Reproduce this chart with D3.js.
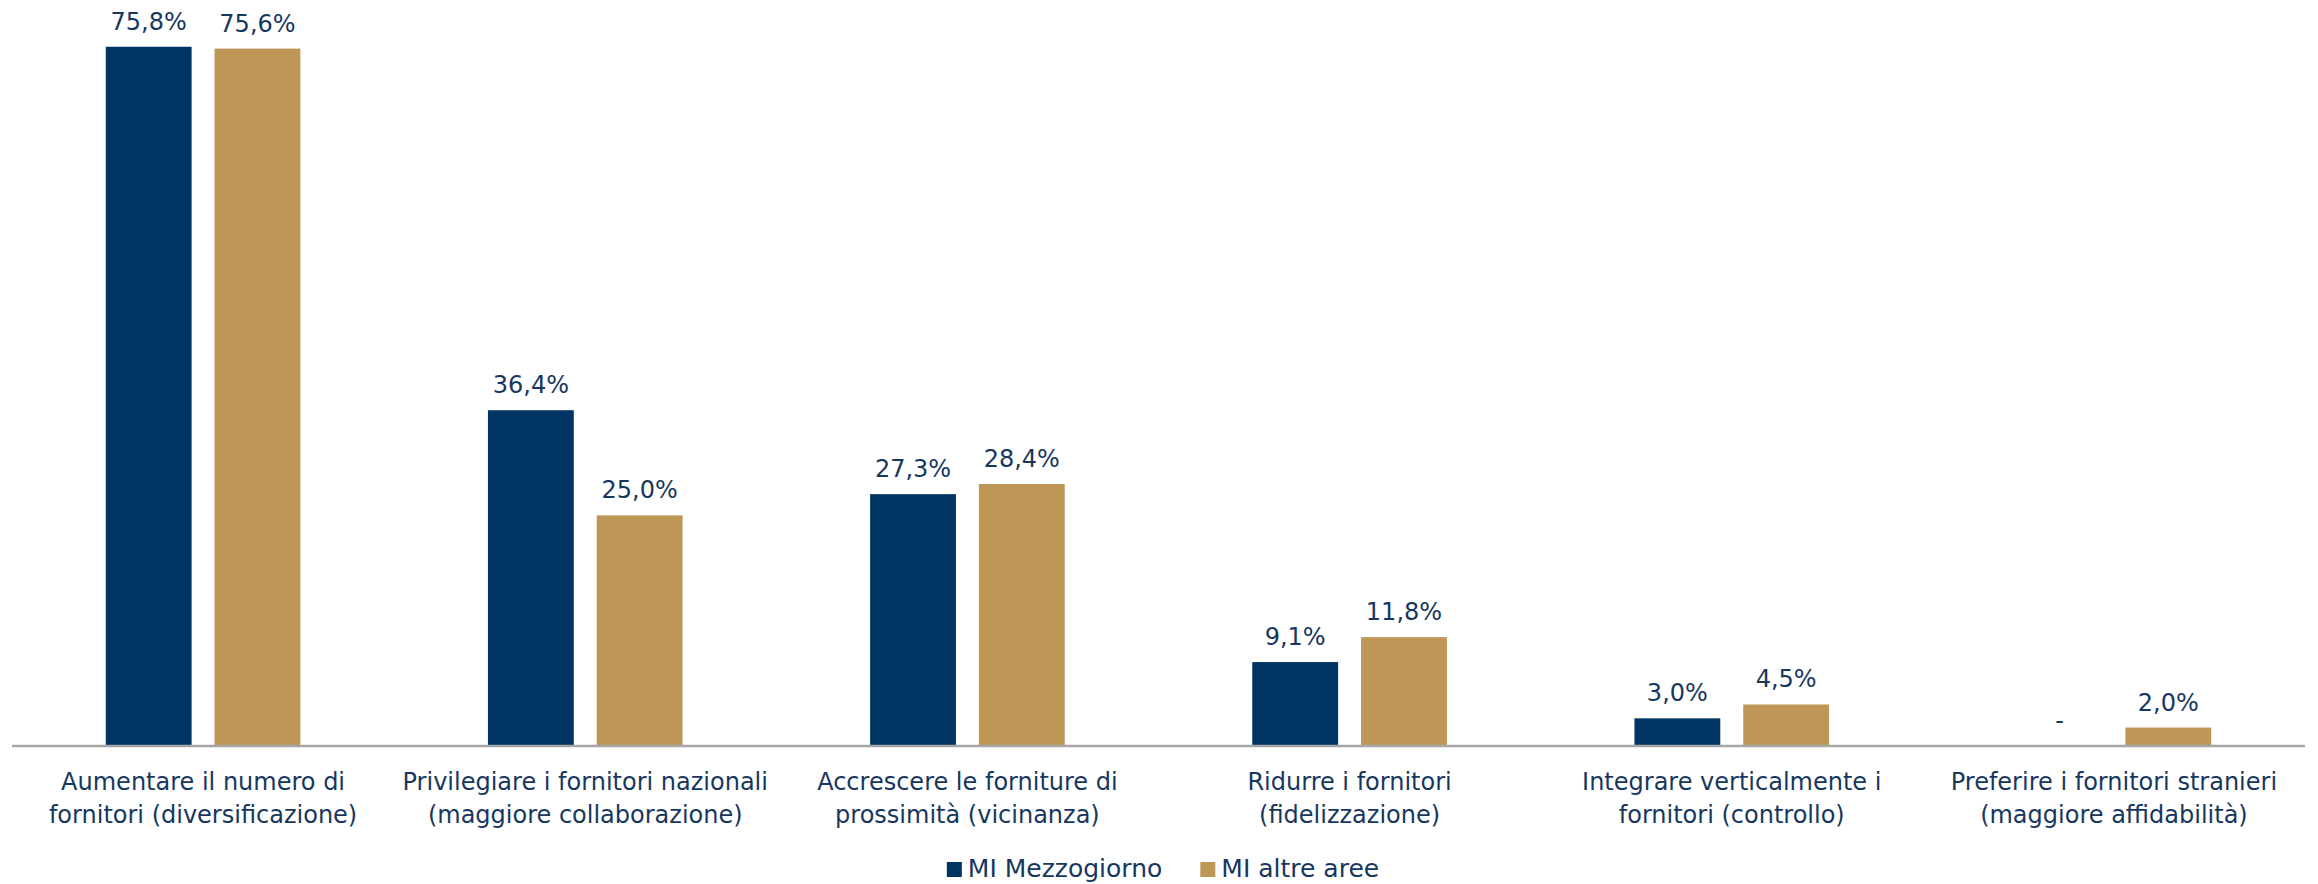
<!DOCTYPE html>
<html>
<head>
<meta charset="utf-8">
<script src="https://cdn.jsdelivr.net/npm/d3@7/dist/d3.min.js"></script>
<style>
  html, body { margin: 0; padding: 0; background: #ffffff; }
  svg { display: block; }
</style>
</head>
<body>
<svg id="chart" width="2318" height="884"></svg>
<script>
// ---- data ----
const categories = [
  ["Aumentare il numero di", "fornitori (diversificazione)"],
  ["Privilegiare i fornitori nazionali", "(maggiore collaborazione)"],
  ["Accrescere le forniture di", "prossimità (vicinanza)"],
  ["Ridurre i fornitori", "(fidelizzazione)"],
  ["Integrare verticalmente i", "fornitori (controllo)"],
  ["Preferire i fornitori stranieri", "(maggiore affidabilità)"]
];
const seriesNames = ["MI Mezzogiorno", "MI altre aree"];
const mezzogiorno = [75.8, 36.4, 27.3, 9.1, 3.0, 0];
const altreAree   = [75.6, 25.0, 28.4, 11.8, 4.5, 2.0];
const seriesColors = ["#003462", "#be9655"];

// ---- layout ----
const W = 2318, H = 884;
const textColor = "#17375e";
const font = "'DejaVu Sans', sans-serif";
const svg = d3.select("#chart");

const catIdx = categories.map((d, i) => i);
const x = d3.scaleBand().domain(catIdx).range([12, 2305]).paddingInner(0).paddingOuter(0);
const xs = d3.scaleBand().domain([0, 1]).range([0, x.bandwidth()])
  .paddingInner(0.211).paddingOuter(0.862);
const y = d3.scaleLinear().domain([0, 80]).range([746, 8]);

const seriesValues = [mezzogiorno, altreAree];
const rows = [];
catIdx.forEach(c => seriesValues.forEach((vals, s) => rows.push({ c, s, v: vals[c] })));

// bars
svg.append("g").selectAll("rect")
  .data(rows.filter(d => d.v > 0))
  .join("rect")
  .attr("x", d => x(d.c) + xs(d.s))
  .attr("width", xs.bandwidth())
  .attr("y", d => y(d.v))
  .attr("height", d => y(0) - y(d.v))
  .attr("fill", d => seriesColors[d.s]);

// value labels
const fmt = v => v === 0 ? "-" : v.toFixed(1).replace(".", ",") + "%";
svg.append("g").selectAll("text")
  .data(rows)
  .join("text")
  .attr("x", d => x(d.c) + xs(d.s) + xs.bandwidth() / 2)
  .attr("y", d => y(d.v) - 17)
  .attr("text-anchor", "middle")
  .attr("font-family", font)
  .attr("font-size", 24)
  .attr("fill", textColor)
  .text(d => fmt(d.v));

// x axis baseline
const xAxis = d3.axisBottom(x).tickSize(0).tickFormat("");
const axisG = svg.append("g").attr("transform", `translate(0,${y(0)})`).call(xAxis);
axisG.select(".domain").attr("stroke", "#a6a6a6").attr("stroke-width", 2.5)
  .attr("d", `M12,0H2305`);

// category labels
const lbl = svg.append("g").selectAll("text")
  .data(catIdx)
  .join("text")
  .attr("text-anchor", "middle")
  .attr("font-family", font)
  .attr("font-size", 24)
  .attr("fill", textColor);
lbl.selectAll("tspan")
  .data(c => categories[c].map(line => ({ c, line })))
  .join("tspan")
  .attr("x", d => x(d.c) + x.bandwidth() / 2)
  .attr("y", (d, i) => 790 + i * 33)
  .text(d => d.line);

// legend
const leg = svg.append("g");
const items = leg.selectAll("g").data(seriesNames).join("g");
items.append("rect").attr("width", 15).attr("height", 15).attr("y", -15)
  .attr("fill", (d, i) => seriesColors[i]);
items.append("text").attr("x", 21).attr("y", 0)
  .attr("font-family", font).attr("font-size", 25).attr("fill", textColor)
  .text(d => d);
let off = 0;
items.each(function () {
  const w = this.getBBox().width;
  d3.select(this).attr("transform", `translate(${off},0)`);
  off += w + 38;
});
const total = off - 38;
leg.attr("transform", `translate(${1163 - total / 2},877)`);
</script>
</body>
</html>
